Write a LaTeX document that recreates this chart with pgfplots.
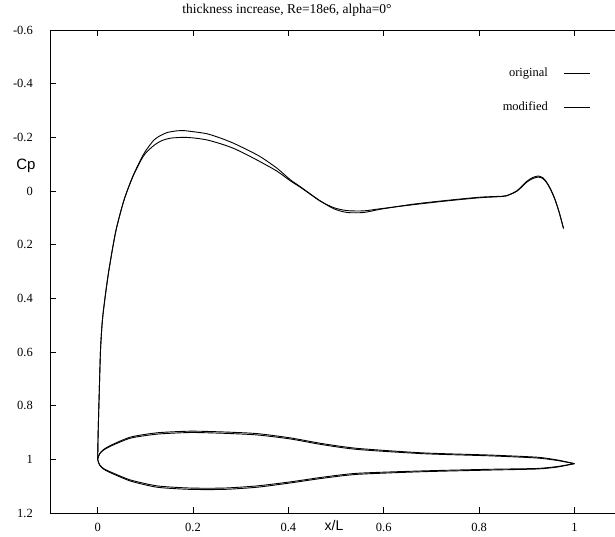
\documentclass[border=0pt]{standalone}
\usepackage{fontspec}
\setmainfont{Liberation Serif}
\newfontfamily\labelfont{Liberation Sans}
\usepackage{pgfplots}
\pgfplotsset{compat=1.18}

\begin{document}
\fontsize{12}{14}\selectfont
\begin{tikzpicture}
\begin{axis}[
  at={(0pt,0pt)}, anchor=south west,
  scale only axis, width=565pt, height=483pt,
  xmin=-0.1, xmax=1.085, ymin=-0.6, ymax=1.2,
  y dir=reverse,
  axis y line*=left,
  axis line style={line width=0.8pt},
  tick align=inside,
  major tick length=6pt,
  tick style={line width=0.7pt, black},
  xtick={0,0.2,0.4,0.6,0.8,1},
  ytick={-0.6,-0.4,-0.2,0,0.2,0.4,0.6,0.8,1,1.2},
  /pgf/number format/assume math mode=true,
  every tick label/.append style={font=\fontsize{12.5}{12.5}\selectfont},
  yticklabel style={xshift=-13pt},
  xticklabel style={yshift=-6pt},
  clip mode=individual,
  legend style={draw=none, fill=none, at={(0.9575,0.9255)}, anchor=north east,
    row sep=19pt, inner sep=0pt, font=\fontsize{12.5}{12.5}\selectfont,
    /tikz/every odd column/.append style={column sep=14pt}},
  legend cell align=right,
  legend plot pos=right,
  legend image code/.code={\draw[#1] (0pt,0pt) -- (26pt,0pt);},
]
% pressure distribution, original geometry
\addplot[black, line width=0.9pt, smooth, tension=0.45] coordinates {
(0,1.0) (0.001,0.90) (0.003,0.77) (0.006,0.59) (0.010,0.48) (0.016,0.39)
(0.024,0.29) (0.038,0.15) (0.055,0.035) (0.073,-0.050) (0.090,-0.112)
(0.100,-0.140) (0.118,-0.170) (0.135,-0.188) (0.153,-0.197) (0.181,-0.200)
(0.205,-0.197) (0.230,-0.190) (0.258,-0.176) (0.285,-0.159) (0.313,-0.135)
(0.341,-0.109) (0.376,-0.074) (0.404,-0.038) (0.425,-0.014) (0.446,0.012)
(0.467,0.038) (0.495,0.062) (0.523,0.073) (0.558,0.074) (0.593,0.066)
(0.662,0.051) (0.732,0.037) (0.802,0.025) (0.851,0.020) (0.865,0.013)
(0.880,0.000) (0.900,-0.033) (0.912,-0.046) (0.924,-0.052) (0.934,-0.046)
(0.942,-0.030) (0.950,-0.005) (0.959,0.032) (0.968,0.080) (0.977,0.139)
};
\addlegendentry{original}
% pressure distribution, thickened geometry
\addplot[black, line width=0.9pt, smooth, tension=0.45] coordinates {
(0,1.0) (0.001,0.90) (0.003,0.77) (0.006,0.59) (0.010,0.48) (0.016,0.39)
(0.024,0.29) (0.038,0.15) (0.055,0.035) (0.073,-0.052) (0.090,-0.116)
(0.100,-0.148) (0.118,-0.190) (0.132,-0.207) (0.146,-0.218) (0.165,-0.224)
(0.181,-0.225) (0.205,-0.220) (0.230,-0.213) (0.258,-0.197) (0.285,-0.178)
(0.313,-0.154) (0.341,-0.128) (0.376,-0.085) (0.404,-0.042) (0.425,-0.016)
(0.446,0.011) (0.467,0.037) (0.495,0.066) (0.523,0.080) (0.558,0.080)
(0.593,0.068) (0.662,0.049) (0.732,0.035) (0.802,0.023) (0.851,0.019)
(0.865,0.012) (0.880,-0.002) (0.900,-0.036) (0.912,-0.050) (0.924,-0.056)
(0.934,-0.049) (0.942,-0.032) (0.950,-0.007) (0.959,0.030) (0.968,0.080)
(0.977,0.140)
};
\addlegendentry{modified}
% section contour, original
\addplot[black, line width=0.9pt, smooth, tension=0.4, forget plot] coordinates {
(1.000,1.016) (0.963,1.004) (0.921,0.995) (0.823,0.987) (0.683,0.979)
(0.544,0.963) (0.470,0.945) (0.404,0.924) (0.334,0.909) (0.265,0.903)
(0.195,0.900) (0.125,0.906) (0.069,0.921) (0.027,0.951) (0.012,0.966)
(0.004,0.980) (0.000,1.000) (0.004,1.020) (0.012,1.034) (0.027,1.047)
(0.069,1.077) (0.125,1.099) (0.195,1.107) (0.265,1.107) (0.334,1.099)
(0.404,1.084) (0.470,1.067) (0.544,1.052) (0.683,1.043) (0.823,1.037)
(0.921,1.034) (0.963,1.027) (1.000,1.016)
};
% section contour, thickened
\addplot[black, line width=0.9pt, smooth, tension=0.4, forget plot] coordinates {
(1.000,1.016) (0.963,1.002) (0.921,0.992) (0.823,0.984) (0.683,0.976)
(0.544,0.959) (0.470,0.941) (0.404,0.920) (0.334,0.904) (0.265,0.898)
(0.195,0.895) (0.125,0.901) (0.069,0.917) (0.027,0.948) (0.012,0.964)
(0.004,0.979) (0.000,1.000) (0.004,1.021) (0.012,1.036) (0.027,1.050)
(0.069,1.081) (0.125,1.104) (0.195,1.112) (0.265,1.112) (0.334,1.104)
(0.404,1.088) (0.470,1.071) (0.544,1.056) (0.683,1.046) (0.823,1.040)
(0.921,1.036) (0.963,1.029) (1.000,1.016)
};
% titles and axis names
\node[font=\fontsize{13.5}{13.5}\selectfont] at (axis description cs:0.4195,1) [yshift=20pt] {thickness increase, Re=18e6, alpha=0°};
\node[font=\labelfont\fontsize{15}{15}\selectfont] at (axis description cs:0,0.7184) [xshift=-24pt] {Cp};
\node[font=\labelfont\fontsize{14}{14}\selectfont] at (axis description cs:0.5027,0) [yshift=-12pt] {x/L};
\end{axis}
\pgfresetboundingbox
\path (-50pt,-23pt) rectangle (565pt,513pt);
\end{tikzpicture}
\end{document}
